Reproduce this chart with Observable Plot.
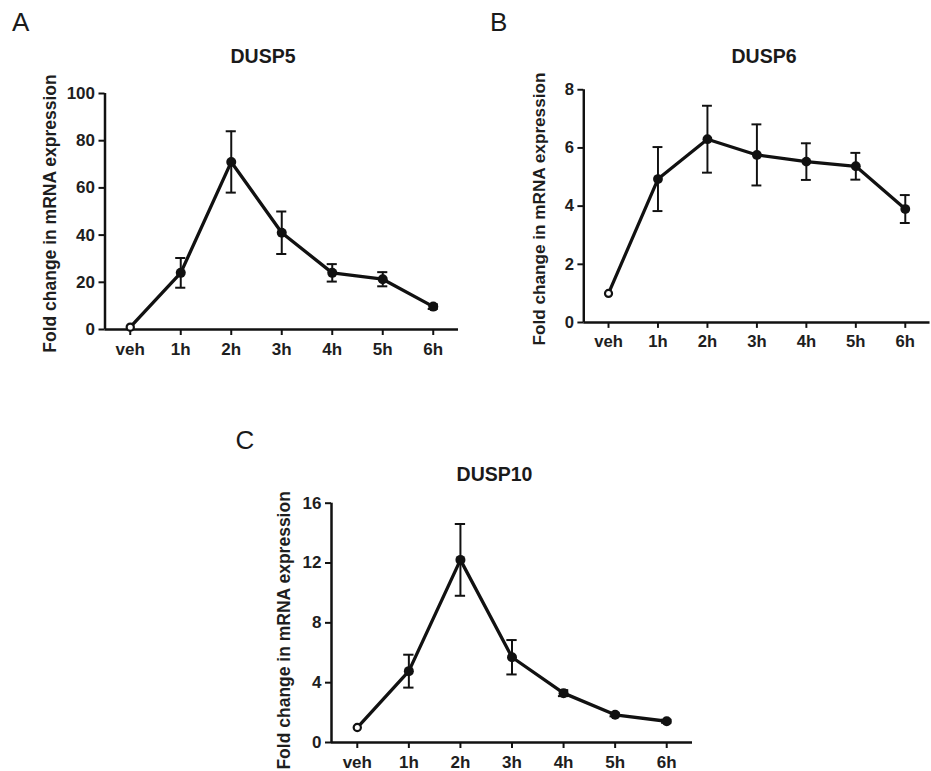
<!DOCTYPE html>
<html>
<head>
<meta charset="utf-8">
<script src="https://cdn.jsdelivr.net/npm/d3@7"></script>
<script src="https://cdn.jsdelivr.net/npm/@observablehq/plot@0.6"></script>
<style>
html, body { margin: 0; padding: 0; background: #fff; overflow: hidden; }
#root { position: relative; width: 931px; height: 771px; overflow: hidden; font-family: "Liberation Sans", Arial, sans-serif; color: #1a1a1a; }
.panel { position: absolute; }
.panel svg { overflow: visible; }
.letter { position: absolute; font-size: 26px; line-height: 1; font-weight: 400; }
.title { position: absolute; font-size: 19.5px; line-height: 1; font-weight: 700; transform: translateX(-50%); white-space: nowrap; }
</style>
</head>
<body>
<div id="root"></div>
<script>
// ---- data ----
const timepoints = ["veh", "1h", "2h", "3h", "4h", "5h", "6h"];
const yLabel = "Fold change in mRNA expression";

const dusp5Mean = [1, 24, 71, 41, 24, 21.3, 9.7];
const dusp5Err  = [0, 6.3, 13, 9, 3.7, 3, 1];
const dusp5Ticks = [0, 20, 40, 60, 80, 100];

const dusp6Mean = [1, 4.93, 6.30, 5.76, 5.53, 5.37, 3.90];
const dusp6Err  = [0, 1.1, 1.15, 1.05, 0.63, 0.46, 0.48];
const dusp6Ticks = [0, 2, 4, 6, 8];

const dusp10Mean = [1, 4.77, 12.21, 5.70, 3.30, 1.85, 1.42];
const dusp10Err  = [0, 1.1, 2.4, 1.15, 0.2, 0.1, 0.1];
const dusp10Ticks = [0, 4, 8, 12, 16];

const panels = [
  {letter: "A", title: "DUSP5", means: dusp5Mean, errs: dusp5Err, yTicks: dusp5Ticks,
   left: 0, top: 0, w: 470, h: 385, fL: 104.5, fR: 458, fT: 93, fB: 329,
   labDx: -54.5, labDy: 2, letterX: 12, letterY: 9, titleX: 263, titleY: 46.5},
  {letter: "B", title: "DUSP6", means: dusp6Mean, errs: dusp6Err, yTicks: dusp6Ticks,
   left: 470, top: 0, w: 470, h: 385, fL: 585.5, fR: 938.5, fT: 91, fB: 328.3,
   labDx: -45, labDy: 3, letterX: 490, letterY: 9, titleX: 764, titleY: 46.5},
  {letter: "C", title: "DUSP10", means: dusp10Mean, errs: dusp10Err, yTicks: dusp10Ticks,
   left: 220, top: 400, w: 490, h: 400, fL: 331, fR: 692, fT: 502.7, fB: 742,
   labDx: -47, labDy: 7.5, letterX: 235.5, letterY: 427, titleX: 494.5, titleY: 465}
];

const ink = "#111";
const textInk = "#1e1e1e";
const xDomain = [-0.5, 6.5];
const capHalf = 0.1;

const root = document.getElementById("root");

for (const p of panels) {
  const data = timepoints.map((t, i) => ({
    i, t, mean: p.means[i], lo: p.means[i] - p.errs[i], hi: p.means[i] + p.errs[i]
  }));
  const yMax = p.yTicks[p.yTicks.length - 1];
  const chart = Plot.plot({
    width: p.w,
    height: p.h,
    marginLeft: p.fL - p.left,
    marginRight: p.left + p.w - p.fR,
    marginTop: p.fT - p.top,
    marginBottom: p.top + p.h - p.fB,
    style: {fontFamily: '"Liberation Sans", Arial, sans-serif', fontSize: "17px", fontWeight: 700, color: textInk, background: "transparent", overflow: "visible"},
    x: {domain: xDomain, label: null},
    y: {domain: [0, yMax], label: null},
    marks: [
      Plot.axisX({ticks: d3.range(timepoints.length), tickFormat: i => timepoints[i], tickSize: 6, tickPadding: 7, strokeWidth: 2, stroke: ink, label: null}),
      Plot.axisY({ticks: p.yTicks, tickSize: 6, tickPadding: 4, strokeWidth: 2, stroke: ink, label: null}),
      Plot.ruleY([0], {stroke: ink, strokeWidth: 2.5}),
      Plot.ruleX([xDomain[0]], {y1: 0, y2: yMax, stroke: ink, strokeWidth: 2.5}),
      Plot.ruleX(data.filter(d => d.hi > d.lo), {x: "i", y1: "lo", y2: "hi", stroke: ink, strokeWidth: 2}),
      Plot.ruleY(data.filter(d => d.hi > d.lo), {y: "hi", x1: d => d.i - capHalf, x2: d => d.i + capHalf, stroke: ink, strokeWidth: 2}),
      Plot.ruleY(data.filter(d => d.hi > d.lo), {y: "lo", x1: d => d.i - capHalf, x2: d => d.i + capHalf, stroke: ink, strokeWidth: 2}),
      Plot.line(data, {x: "i", y: "mean", stroke: ink, strokeWidth: 3.3}),
      Plot.dot(data.filter(d => d.i > 0), {x: "i", y: "mean", r: 5, fill: ink, stroke: "none"}),
      Plot.dot(data.filter(d => d.i === 0), {x: "i", y: "mean", r: 3.6, fill: "#fff", stroke: ink, strokeWidth: 2.2}),
      Plot.text([yLabel], {frameAnchor: "left", textAnchor: "middle", rotate: -90, dx: p.labDx, dy: p.labDy, fontSize: 17.5, fontWeight: 700, fill: textInk})
    ]
  });
  const holder = document.createElement("div");
  holder.className = "panel";
  holder.style.left = p.left + "px";
  holder.style.top = p.top + "px";
  holder.appendChild(chart);
  root.appendChild(holder);

  const letter = document.createElement("div");
  letter.className = "letter";
  letter.style.left = p.letterX + "px";
  letter.style.top = p.letterY + "px";
  letter.textContent = p.letter;
  root.appendChild(letter);

  const title = document.createElement("div");
  title.className = "title";
  title.style.left = p.titleX + "px";
  title.style.top = p.titleY + "px";
  title.textContent = p.title;
  root.appendChild(title);
}
</script>
</body>
</html>
